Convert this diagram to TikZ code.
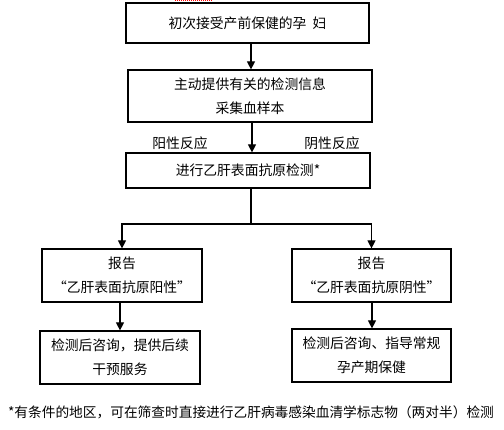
\documentclass[tikz,border=0pt]{standalone}
\usepackage{fontspec}
\setmainfont{Noto Sans CJK SC}
\usetikzlibrary{arrows.meta}
\begin{document}
\begin{tikzpicture}[x=1pt,y=-1pt,
  box/.style={draw,line width=1.2pt,rectangle,inner sep=0pt,align=center,
    font=\fontsize{13.8}{24}\selectfont},
  lbl/.style={inner sep=0pt,font=\fontsize{13.8}{16}\selectfont},
  arr/.style={line width=1.2pt,-{Triangle[length=8pt,width=8pt]}},
  ln/.style={line width=1.2pt}]
\useasboundingbox (0,0) rectangle (504,430);
\fill[white] (0,0) rectangle (504,430);
\draw[red,densely dotted,line width=1pt] (175,1) -- (213,1);
\node[box,minimum width=243pt,minimum height=40pt] (b1) at (247.5,23) {\raisebox{-5pt}{初次接受产前保健的孕\ \ 妇}};
\node[box,minimum width=244pt,minimum height=52pt] (b2) at (250,96) {主动提供有关的检测信息\\采集血样本};
\node[box,minimum width=244pt,minimum height=35pt] (b3) at (248,170.5) {进行乙肝表面抗原检测*};
\node[box,minimum width=160pt,minimum height=53pt] (b4l) at (122,275.5) {报告\\“乙肝表面抗原阳性”};
\node[box,minimum width=159pt,minimum height=53pt] (b4r) at (371.5,275.5) {报告\\“乙肝表面抗原阴性”};
\node[box,minimum width=160pt,minimum height=53pt] (b5l) at (120,357.5) {检测后咨询，提供后续\\干预服务};
\node[box,minimum width=159pt,minimum height=53pt] (b5r) at (371.5,355.5) {检测后咨询、指导常规\\孕产期保健};
\node[lbl] (pos) at (180,143) {阳性反应};
\node[lbl] (neg) at (332,143) {阴性反应};
\node[lbl,font=\fontsize{13.7}{16}\selectfont] (fn) at (251,412) {*有条件的地区，可在筛查时直接进行乙肝病毒感染血清学标志物（两对半）检测};
\draw[arr] ([xshift=3.5pt]b1.south) -- ([xshift=3.5pt]b1.south |- b2.north);
\draw[arr] ([xshift=2pt]b2.south) -- ([xshift=2pt]b2.south |- b3.north);
\coordinate (j) at (251,224);
\draw[ln] ([xshift=3pt]b3.south) -- (j);
\draw[arr] (j) -| (b4l.north);
\draw[arr] (j) -| (b4r.north);
\draw[arr] ([xshift=-2pt]b4l.south) -- ([xshift=-2pt]b4l.south |- b5l.north);
\draw[arr] ([xshift=0.5pt]b4r.south) -- ([xshift=0.5pt]b4r.south |- b5r.north);
\end{tikzpicture}
\end{document}
